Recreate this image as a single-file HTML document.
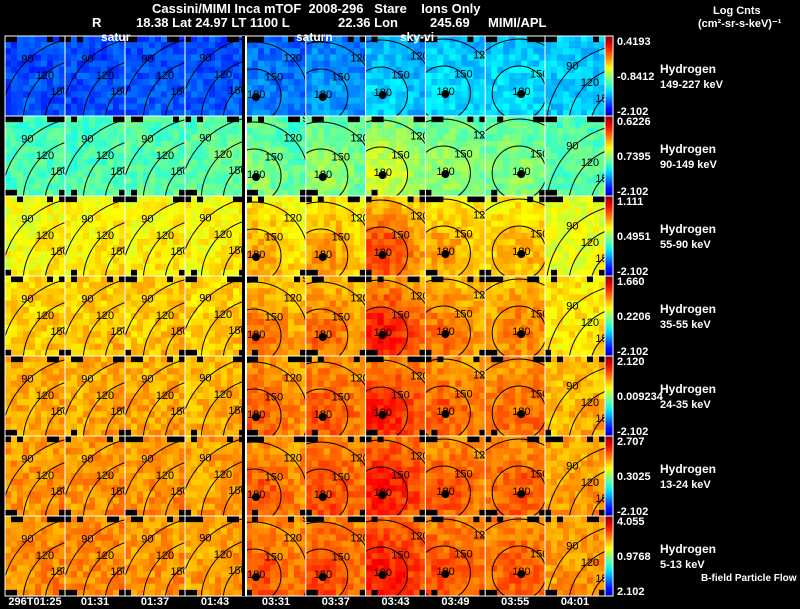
<!DOCTYPE html>
<html><head><meta charset="utf-8">
<style>
html,body{margin:0;padding:0;background:#000;width:800px;height:609px;overflow:hidden}
svg{display:block}
text{font-family:"Liberation Sans",sans-serif;}
</style></head>
<body>
<svg id="chart" width="800" height="609" viewBox="0 0 800 609" xmlns="http://www.w3.org/2000/svg">
<rect width="800" height="609" fill="#000"/>
<g fill="#fff" font-size="13" font-weight="bold">
<text x="152" y="13">Cassini/MIMI Inca mTOF&#160;&#160;2008-296&#160;&#160;&#160;Stare&#160;&#160;&#160;&#160;Ions Only</text>
<text x="92" y="27">R</text>
<text x="136" y="27">18.38 Lat 24.97 LT 1100 L</text>
<text x="338" y="27">22.36 Lon</text>
<text x="430" y="27">245.69</text>
<text x="488" y="27">MIMI/APL</text>
<text x="713" y="14" font-size="11">Log Cnts</text>
<text x="698" y="27" font-size="11">(cm²-sr-s-keV)⁻¹</text>
</g>
<g id="panels"></g>
<g id="overlay" fill="#fff" font-size="12" font-weight="bold">
<text x="101" y="41">satur</text>
<text x="296" y="41">saturn</text>
<text x="400" y="41">sky-vi</text>
</g>
<g id="bars"></g>
<g id="times" fill="#fff" font-size="11" font-weight="bold"></g>
<text x="701" y="581" fill="#fff" font-size="10" font-weight="bold">B-field Particle Flow</text>
</svg>
<script>
const times = ["296T01:25","01:31","01:37","01:43","03:31","03:37","03:43","03:49","03:55","04:01"];
const species = ["Hydrogen","Hydrogen","Hydrogen","Hydrogen","Hydrogen","Hydrogen","Hydrogen"];
const energies = ["149-227 keV","90-149 keV","55-90 keV","35-55 keV","24-35 keV","13-24 keV","5-13 keV"];
const barMax = ["0.4193","0.6226","1.111","1.660","2.120","2.707","4.055"];
const barMid = ["-0.8412","0.7395","0.4951","0.2206","0.009234","0.3025","0.9768"];
const barMin = ["-2.102","-2.102","-2.102","-2.102","-2.102","-2.102","2.102"];
// normalized base level per panel (row = energy, col = time)
const baseLevel = [
 [0.19,0.19,0.20,0.20,0.22,0.24,0.28,0.31,0.31,0.32],
 [0.44,0.44,0.45,0.46,0.44,0.46,0.47,0.46,0.45,0.45],
 [0.61,0.62,0.62,0.62,0.62,0.63,0.65,0.62,0.62,0.60],
 [0.66,0.67,0.67,0.66,0.67,0.68,0.70,0.67,0.67,0.64],
 [0.70,0.70,0.70,0.69,0.71,0.72,0.73,0.71,0.71,0.69],
 [0.72,0.72,0.72,0.71,0.72,0.73,0.75,0.72,0.72,0.71],
 [0.73,0.73,0.72,0.71,0.73,0.74,0.76,0.73,0.73,0.72]];
const peakBoost = [
 [0.02,0.02,0.02,0.02,0.04,0.04,0.06,0.04,0.04,0.02],
 [0.03,0.03,0.03,0.03,0.07,0.07,0.12,0.07,0.06,0.03],
 [0.04,0.04,0.04,0.04,0.10,0.10,0.17,0.10,0.08,0.04],
 [0.04,0.04,0.04,0.04,0.10,0.10,0.17,0.10,0.08,0.04],
 [0.03,0.03,0.03,0.03,0.08,0.08,0.13,0.08,0.07,0.03],
 [0.03,0.03,0.03,0.03,0.08,0.08,0.11,0.08,0.07,0.03],
 [0.03,0.03,0.03,0.03,0.07,0.07,0.10,0.07,0.06,0.03]];
const centerX = [80,80,80,78,8,15,15,18,34,85];
const centerY = [85,85,85,84,60,60,58,57,57,92];
const pitchAngles = [90,120,150];

const NS="http://www.w3.org/2000/svg";
function mk(tag,attrs,parent){const e=document.createElementNS(NS,tag);for(const k in attrs)e.setAttribute(k,attrs[k]);parent.appendChild(e);return e;}
function jet(v){v=Math.max(0,Math.min(1,v));const c=x=>Math.round(255*Math.max(0,Math.min(1,1.5-Math.abs(x))));return `rgb(${c(4*v-3)},${c(4*v-2)},${c(4*v-1)})`;}
function texture(i,j,r,c){const s=Math.sin(i*127.1+j*311.7+r*74.7+c*269.5)*43758.5453;return s-Math.floor(s)-0.5;}
function colX(i){return i<4?5+60*i:246+59.8*(i-4);}
function rowY(r){return 36+80*r;}
const W=60,H=80,NX=10,NY=13;
const panels=document.getElementById('panels');
const defs=mk('defs',{},panels);
const mask="1101011101001110110101101101100111010111";
for(let r=0;r<7;r++){for(let c=0;c<10;c++){
  const x0=colX(c),y0=rowY(r);
  const inner=c>=4&&c<=8;
  const g=mk('g',{},panels);
  
  
  const cw=W/NX,ch=H/NY;
  for(let j=0;j<NY;j++)for(let i=0;i<NX;i++){
    const px=(i+0.5)*cw,py=(j+0.5)*ch;
    const d=Math.hypot(px-centerX[c],py-centerY[c]);
    const tex=0.09*texture(i,j,r,c);
    const sig=inner?30:40;
    let v=baseLevel[r][c]+peakBoost[r][c]*Math.exp(-d*d/(2*sig*sig))+tex;
    let fill=jet(v);
    const k=(i+c*3+r*5)%mask.length;
    if((j===0&&mask[k]==='1'&&(i<3||i>6))||(j===NY-1&&mask[(k+7)%mask.length]==='1'&&r>0&&(i<2||i>8))) fill='#000';
    const cell=mk('rect',{x:(x0+i*cw).toFixed(2),y:(y0+j*ch).toFixed(2),width:(cw+0.3).toFixed(2),height:(ch+0.3).toFixed(2),fill:fill},g);
    
    
  }
  const cp=mk('clipPath',{id:'cp'+r+'-'+c},defs);
  mk('rect',{x:x0,y:y0,width:W,height:H},cp);
  const cg=mk('g',{'clip-path':'url(#cp'+r+'-'+c+')'},g);
  const cx=x0+centerX[c],cy=y0+centerY[c];
  pitchAngles.forEach(a=>{
    const rad=inner?(180-a)*0.9:(180-a)*0.73+18;
    const circ=mk('circle',{cx:cx,cy:cy,r:rad,fill:'none',stroke:'#000','stroke-width':1},cg);
    
    
    const ang=inner?-0.8:-2.3;
    const t=mk('text',{x:cx+rad*Math.cos(ang)-8,y:cy+rad*Math.sin(ang)+4,'font-size':11,fill:'#000'},cg);
    t.textContent=a;
    
    
  });
  if(inner){
    const dot=mk('circle',{cx:cx+2,cy:cy+1,r:4,fill:'#000'},cg);
    
    
    const t=mk('text',{x:cx-7,y:cy+2,'font-size':11,fill:'#000'},cg);
    t.textContent='180';
    
    
  }
  const b=mk('rect',{x:x0,y:y0,width:W,height:H,fill:'none',stroke:'#fff','stroke-width':1},g);
  
  
}}
const sep=mk('rect',{x:242,y:36,width:4,height:560,fill:'#000'},panels);


const sepl=mk('line',{x1:246,y1:36,x2:246,y2:596,stroke:'#fff','stroke-width':2},panels);



const bars=document.getElementById('bars');
const grad=mk('linearGradient',{id:'jetg',x1:0,y1:1,x2:0,y2:0},defs);
for(let s=0;s<=10;s++){mk('stop',{offset:s/10,'stop-color':jet(0.05+0.95*s/10)},grad);}
for(let r=0;r<7;r++){
  const y0=rowY(r);
  const g=mk('g',{},bars);
  
  
  mk('rect',{x:605,y:y0,width:8,height:80,fill:'url(#jetg)',stroke:'#fff','stroke-width':1},g);
  const lbl=(txt,y,nm)=>{const t=mk('text',{x:617,y:y,fill:'#fff','font-size':11,'font-weight':'bold'},g);t.textContent=txt;};
  lbl(barMax[r],y0+9,'colorbar-max');
  lbl(barMid[r],y0+44,'colorbar-mid');
  lbl(barMin[r],y0+79,'colorbar-min');
  const s1=mk('text',{x:660,y:y0+37,fill:'#fff','font-size':12,'font-weight':'bold'},g);
  s1.textContent=species[r];
  
  
  const s2=mk('text',{x:660,y:y0+52,fill:'#fff','font-size':11,'font-weight':'bold'},g);
  s2.textContent=energies[r];
  
  
}
const tg=document.getElementById('times');
times.forEach((t,i)=>{
  const e=mk('text',{x:colX(i)+30,y:605,'text-anchor':'middle'},tg);
  e.textContent=t;
  
  
});
</script>
</body></html>
